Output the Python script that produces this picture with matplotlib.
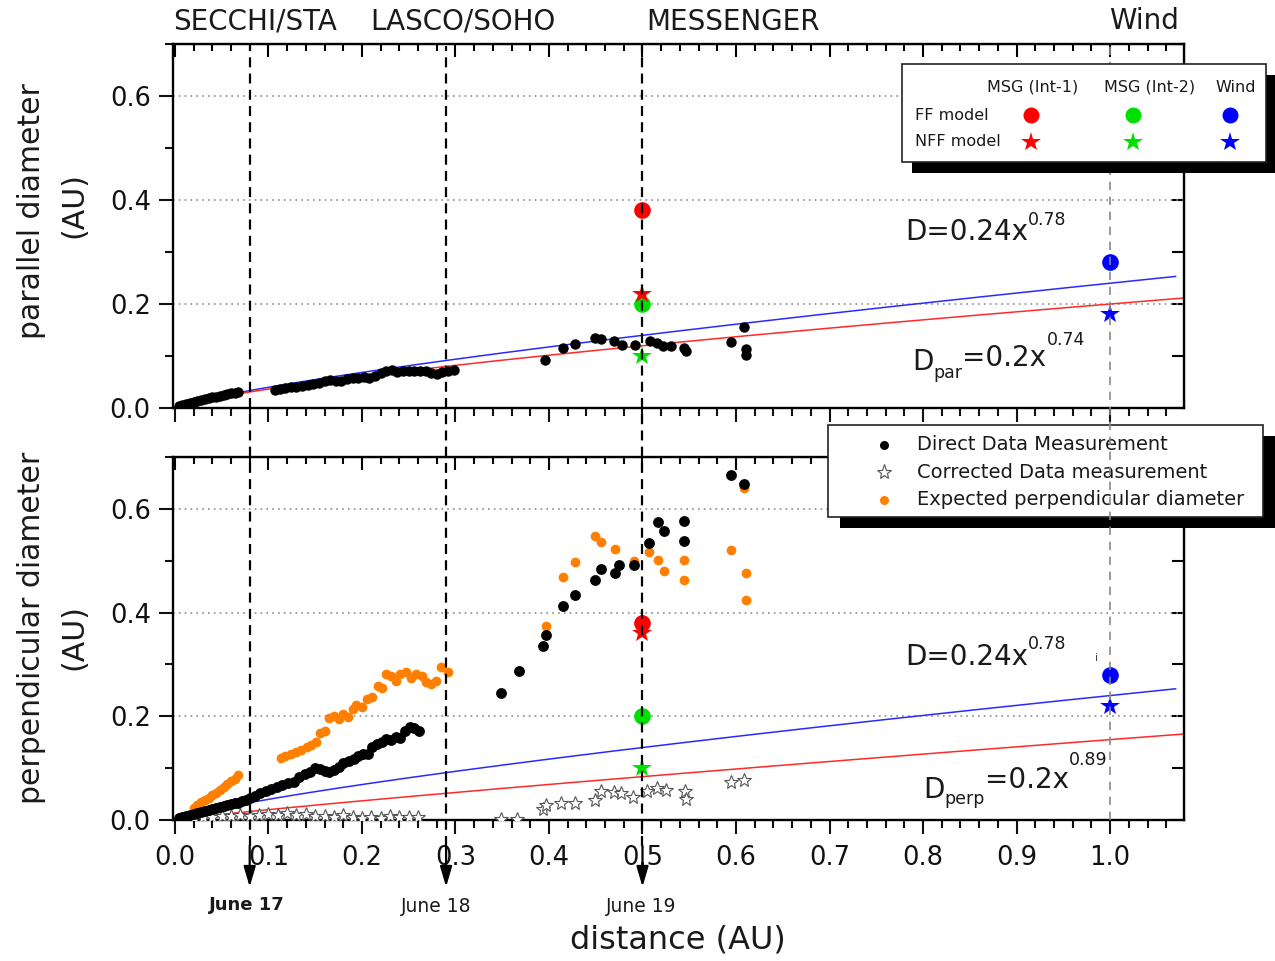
import numpy as np
import matplotlib
matplotlib.use('Agg')
import matplotlib.pyplot as plt
from matplotlib.patches import Rectangle
from matplotlib.lines import Line2D
from matplotlib.ticker import MultipleLocator, NullFormatter, FormatStrFormatter

plt.rcParams['font.family'] = ['DejaVu Sans']

# ---------------- data ----------------
# parallel diameter, direct measurements
par_x = [0.004, 0.008, 0.012, 0.016, 0.020, 0.024, 0.028, 0.032, 0.036, 0.040, 0.044, 0.048, 0.052, 0.056, 0.060, 0.064, 0.068,
         0.107, 0.112, 0.118, 0.124, 0.130, 0.136, 0.142, 0.148, 0.154, 0.160, 0.166, 0.172, 0.178, 0.184, 0.190, 0.196, 0.202,
         0.208, 0.214, 0.220, 0.226, 0.232, 0.238, 0.244, 0.250, 0.256, 0.262, 0.268, 0.274, 0.280, 0.286, 0.292, 0.298,
         0.396, 0.415, 0.428, 0.449, 0.456, 0.470, 0.478, 0.492, 0.508, 0.515, 0.522, 0.530, 0.544, 0.546, 0.595, 0.609, 0.611, 0.611]
par_y = [0.004, 0.006, 0.008, 0.010, 0.012, 0.014, 0.016, 0.018, 0.019, 0.021, 0.022, 0.024, 0.025, 0.026, 0.028, 0.029, 0.030,
         0.035, 0.037, 0.038, 0.040, 0.041, 0.042, 0.044, 0.046, 0.048, 0.051, 0.054, 0.052, 0.051, 0.055, 0.057, 0.058, 0.059,
         0.058, 0.061, 0.068, 0.071, 0.073, 0.070, 0.071, 0.072, 0.071, 0.072, 0.071, 0.068, 0.066, 0.069, 0.071, 0.073,
         0.092, 0.115, 0.123, 0.135, 0.133, 0.128, 0.121, 0.122, 0.128, 0.125, 0.120, 0.119, 0.115, 0.110, 0.127, 0.156, 0.113, 0.102]

# perpendicular diameter, direct measurements
perp_x = [0.004, 0.008, 0.012, 0.016, 0.020, 0.024, 0.028, 0.032, 0.036, 0.040, 0.044, 0.048, 0.052, 0.056, 0.060, 0.064, 0.068, 0.072, 0.076,
          0.080, 0.086, 0.091, 0.097, 0.103, 0.109, 0.115, 0.121, 0.127, 0.133, 0.139, 0.144, 0.150, 0.155, 0.160, 0.165, 0.170, 0.175,
          0.180, 0.186, 0.191, 0.196, 0.201, 0.206, 0.211, 0.216, 0.221, 0.226, 0.231, 0.236, 0.241, 0.246, 0.251, 0.256, 0.261,
          0.349, 0.368, 0.394, 0.397, 0.415, 0.428, 0.449, 0.456, 0.471, 0.475, 0.491, 0.507, 0.517, 0.523, 0.544, 0.544, 0.595, 0.609]
perp_y = [0.003, 0.005, 0.007, 0.009, 0.011, 0.013, 0.015, 0.017, 0.019, 0.021, 0.023, 0.025, 0.027, 0.029, 0.031, 0.033, 0.033, 0.036, 0.038,
          0.042, 0.047, 0.052, 0.056, 0.060, 0.064, 0.067, 0.071, 0.074, 0.083, 0.088, 0.092, 0.100, 0.098, 0.094, 0.093, 0.097, 0.103,
          0.110, 0.114, 0.118, 0.124, 0.127, 0.128, 0.140, 0.146, 0.150, 0.157, 0.155, 0.160, 0.158, 0.172, 0.180, 0.178, 0.172,
          0.244, 0.287, 0.336, 0.357, 0.412, 0.433, 0.463, 0.484, 0.477, 0.492, 0.492, 0.535, 0.574, 0.558, 0.577, 0.538, 0.665, 0.647]

# expected perpendicular diameter
exp_x = [0.020, 0.024, 0.028, 0.032, 0.036, 0.040, 0.044, 0.048, 0.052, 0.056, 0.060, 0.064, 0.068,
         0.113, 0.118, 0.124, 0.130, 0.135, 0.141, 0.146, 0.151, 0.155, 0.160, 0.165, 0.170, 0.175, 0.180, 0.185, 0.190,
         0.194, 0.200, 0.205, 0.211, 0.217, 0.222, 0.226, 0.231, 0.236, 0.241, 0.247, 0.253, 0.258, 0.264, 0.269, 0.274,
         0.279, 0.285, 0.292,
         0.397, 0.415, 0.428, 0.449, 0.456, 0.471, 0.491, 0.507, 0.517, 0.523, 0.544, 0.544, 0.595, 0.609, 0.611, 0.611]
exp_y = [0.024, 0.029, 0.034, 0.038, 0.043, 0.048, 0.053, 0.058, 0.064, 0.069, 0.075, 0.080, 0.086,
         0.119, 0.124, 0.128, 0.131, 0.135, 0.140, 0.144, 0.150, 0.168, 0.172, 0.196, 0.200, 0.194, 0.205, 0.198, 0.214,
         0.221, 0.218, 0.234, 0.238, 0.259, 0.255, 0.282, 0.278, 0.269, 0.282, 0.285, 0.273, 0.282, 0.278, 0.266, 0.263,
         0.268, 0.295, 0.285,
         0.375, 0.469, 0.497, 0.548, 0.537, 0.523, 0.500, 0.517, 0.501, 0.481, 0.501, 0.463, 0.520, 0.641, 0.476, 0.424]

# corrected data measurement
corr_x = [0.010, 0.020, 0.030, 0.040, 0.050, 0.060, 0.070, 0.080, 0.090, 0.100, 0.110, 0.120, 0.130, 0.140, 0.150, 0.160,
          0.170, 0.180, 0.190, 0.200, 0.210, 0.220, 0.230, 0.240, 0.250, 0.260,
          0.349, 0.366, 0.394, 0.397, 0.413, 0.428, 0.449, 0.456, 0.470, 0.477, 0.490, 0.505, 0.515, 0.525, 0.545, 0.546, 0.595, 0.609]
corr_y = [0.002, 0.004, 0.005, 0.006, 0.007, 0.008, 0.009, 0.008, 0.010, 0.012, 0.009, 0.014, 0.010, 0.011, 0.008, 0.007,
          0.005, 0.009, 0.006, 0.004, 0.005, 0.003, 0.008, 0.006, 0.005, 0.006,
          0.001, 0.002, 0.022, 0.029, 0.033, 0.033, 0.038, 0.055, 0.054, 0.052, 0.045, 0.056, 0.062, 0.058, 0.055, 0.040, 0.073, 0.077]

# model results: [MSG Int-1, MSG Int-2, Wind]
model_x = [0.5, 0.5, 1.0]
model_colors = ['#ff0000', '#00e000', '#0000ff']
ff_par = [0.38, 0.20, 0.28]
nff_par = [0.22, 0.10, 0.18]
ff_perp = [0.38, 0.20, 0.28]
nff_perp = [0.36, 0.10, 0.22]

# power-law fits (coefficient, exponent)
fit_par_blue = (0.24, 0.78)
fit_par_red = (0.2, 0.74)
fit_perp_blue = (0.24, 0.78)
fit_perp_red = (0.155, 0.89)

event_x = [0.08, 0.29, 0.5]
event_labels = ['June 17', 'June 18', 'June 19']
wind_x = 1.0
mission_labels = ['SECCHI/STA', 'LASCO/SOHO', 'MESSENGER', 'Wind']

# ---------------- figure ----------------
W, H = 1275, 961
fig = plt.figure(figsize=(W / 100, H / 100), dpi=100)


def box(l, t, r, b):
    return [l / W, 1 - b / H, (r - l) / W, (b - t) / H]


def P(x, y):
    return (x / W, 1 - y / H)


ax1 = fig.add_axes(box(173, 44, 1184, 408))
ax2 = fig.add_axes(box(173, 457, 1184, 820))

XMIN, XMAX, YMIN, YMAX = -0.002, 1.079, 0.0, 0.70

for ax in (ax1, ax2):
    ax.set_xlim(XMIN, XMAX)
    ax.set_ylim(YMIN, YMAX)
    ax.xaxis.set_major_locator(MultipleLocator(0.1))
    ax.xaxis.set_minor_locator(MultipleLocator(0.02))
    ax.yaxis.set_major_locator(MultipleLocator(0.2))
    ax.yaxis.set_minor_locator(MultipleLocator(0.1))
    ax.xaxis.set_major_formatter(FormatStrFormatter('%.1f'))
    ax.yaxis.set_major_formatter(FormatStrFormatter('%.1f'))
    ax.tick_params(which='both', direction='out', width=1.5, labelsize=18.5, colors='#111')
    ax.tick_params(which='major', length=10)
    ax.tick_params(which='minor', length=5.5)
    ax.tick_params(axis='x', which='major', pad=8)
    ax.tick_params(axis='y', which='major', pad=6)
    for s in ax.spines.values():
        s.set_linewidth(1.7)
    ax.grid(axis='y', which='major', color='#8c8c8c', lw=1.2, ls=(0, (1, 2.5)))
    ax.set_axisbelow(True)
    sx = ax.secondary_xaxis('top')
    sx.xaxis.set_major_locator(MultipleLocator(0.1))
    sx.xaxis.set_minor_locator(MultipleLocator(0.02))
    sx.xaxis.set_major_formatter(NullFormatter())
    sx.tick_params(which='both', direction='in', width=1.5)
    sx.tick_params(which='major', length=9)
    sx.tick_params(which='minor', length=5)
    sy = ax.secondary_yaxis('right')
    sy.yaxis.set_major_locator(MultipleLocator(0.2))
    sy.yaxis.set_minor_locator(MultipleLocator(0.1))
    sy.yaxis.set_major_formatter(NullFormatter())
    sy.tick_params(which='both', direction='in', width=1.5, length=9)

ax1.tick_params(labelbottom=False)

# fits
xf_b = np.linspace(0, 1.07, 300)
xf_r = np.linspace(0, XMAX, 300)
ax1.plot(xf_b, fit_par_blue[0] * xf_b ** fit_par_blue[1], color='#2a2aff', lw=1.1, zorder=2)
ax1.plot(xf_r, fit_par_red[0] * xf_r ** fit_par_red[1], color='#ff2a2a', lw=1.1, zorder=2)
ax2.plot(xf_b, fit_perp_blue[0] * xf_b ** fit_perp_blue[1], color='#2a2aff', lw=1.1, zorder=2)
ax2.plot(xf_r, fit_perp_red[0] * xf_r ** fit_perp_red[1], color='#ff2a2a', lw=1.1, zorder=2)

# data points
ax1.plot(par_x, par_y, 'o', color='k', ms=7.5, mew=0, zorder=3)
ax2.plot(corr_x, corr_y, '*', ms=10, mfc='white', mec='#555555', mew=0.8, zorder=3)
ax2.plot(exp_x, exp_y, 'o', color='#ff8000', ms=7, mew=0, zorder=3)
ax2.plot(perp_x, perp_y, 'o', color='k', ms=7.8, mew=0, zorder=3)

# model markers
for ax, ff, nff in ((ax1, ff_par, nff_par), (ax2, ff_perp, nff_perp)):
    for xv, f, c in zip(model_x, ff, model_colors):
        ax.plot([xv], [f], 'o', color=c, ms=12, mew=0, zorder=4)
    for xv, n, c in zip(model_x, nff, model_colors):
        ax.plot([xv], [n], '*', color=c, ms=15, mew=0, zorder=4)

# vertical event lines spanning both panels
top_in_ax2 = (820 - 44) / 520.0
for xv in event_x:
    ax2.plot([xv, xv], [-0.05, top_in_ax2], color='k', lw=1.6, ls=(0, (4.5, 2.8)),
             clip_on=False, zorder=7)
    ax2.annotate('', xy=(xv, -0.129), xytext=(xv, -0.05), xycoords='data',
                 arrowprops=dict(arrowstyle='-|>,head_length=0.68,head_width=0.2', color='k',
                                 lw=1.6, mutation_scale=18, shrinkA=0, shrinkB=0),
                 annotation_clip=False)
ax2.plot([wind_x, wind_x], [0, top_in_ax2], color='#8a8a8a', lw=1.2, ls=(0, (5, 4)),
         clip_on=False, zorder=6)

# ---------------- legend 2 (bottom) drawn below the Wind line ----------------
def frect(l, t, r, b, **kw):
    return Rectangle((l / W, 1 - b / H), (r - l) / W, (b - t) / H, transform=fig.transFigure, **kw)


ax2.add_artist(frect(840, 436, 1276, 528, facecolor='k', edgecolor='none', zorder=4, clip_on=False))
ax2.add_artist(frect(828, 425, 1263, 517, facecolor='white', edgecolor='#222', lw=1.2, zorder=4.1, clip_on=False))
leg2_rows = [(445, 'Direct Data Measurement', dict(marker='o', color='k', ms=6.5, mew=0)),
             (472, 'Corrected Data measurement', dict(marker='*', mfc='white', mec='#555555', ms=11, mew=0.8)),
             (500, 'Expected perpendicular diameter', dict(marker='o', color='#ff8000', ms=6.5, mew=0))]
for y, label, mk in leg2_rows:
    ax2.add_artist(Line2D([884 / W], [1 - y / H], transform=fig.transFigure, ls='none',
                          zorder=4.2, clip_on=False, **mk))
    ax2.text(917 / W, 1 - y / H, label, transform=fig.transFigure, fontsize=14, va='center',
             ha='left', color='#1a1a1a', zorder=4.2, clip_on=False)

# ---------------- legend 1 (top) ----------------
fig.add_artist(frect(912, 75, 1276, 173, facecolor='k', edgecolor='none', zorder=10))
fig.add_artist(frect(902, 64, 1266, 162, facecolor='white', edgecolor='#222', lw=1.2, zorder=11))
leg1_cols = [1031, 1133, 1230]
leg1_heads = ['MSG (Int-1)', 'MSG (Int-2)', 'Wind']
leg1_head_x = [1033, 1150, 1236]
for hx, h in zip(leg1_head_x, leg1_heads):
    fig.text(*P(hx, 87), h, fontsize=11.5, ha='center', va='center', color='#1a1a1a', zorder=12)
fig.text(*P(915, 115), 'FF model', fontsize=11.5, ha='left', va='center', color='#1a1a1a', zorder=12)
fig.text(*P(915, 142), 'NFF model', fontsize=11.5, ha='left', va='center', color='#1a1a1a', zorder=12)
for cx, c in zip(leg1_cols, model_colors):
    fig.add_artist(Line2D([cx / W], [1 - 115 / H], transform=fig.transFigure, marker='o', color=c,
                          ms=11.5, mew=0, ls='none', zorder=12))
    fig.add_artist(Line2D([cx / W], [1 - 142 / H], transform=fig.transFigure, marker='*', color=c,
                          ms=15, mew=0, ls='none', zorder=12))

# ---------------- texts ----------------
for (xc, yc), s in zip([(255, 22), (463, 22), (733, 22), (1144, 21)], mission_labels):
    fig.text(*P(xc, yc), s, fontsize=20, ha='center', va='center', color='#1a1a1a')

fig.text(*P(32, 211), 'parallel diameter', fontsize=21.5, rotation=90, ha='center', va='center', color='#1a1a1a')
fig.text(*P(74, 205), '(AU)', fontsize=21.5, rotation=90, ha='center', va='center', color='#1a1a1a')
fig.text(*P(32, 628), 'perpendicular diameter', fontsize=21.5, rotation=90, ha='center', va='center', color='#1a1a1a')
fig.text(*P(74, 637), '(AU)', fontsize=21.5, rotation=90, ha='center', va='center', color='#1a1a1a')
fig.text(*P(678, 940), 'distance (AU)', fontsize=23, ha='center', va='center', color='#1a1a1a')

for (xc, yc), s, wt in zip([(247, 905), (436, 907), (641, 907)], event_labels, ['bold', 'normal', 'normal']):
    fig.text(*P(xc, yc), s, fontsize=13 if wt == 'bold' else 13.5, fontweight=wt,
             ha='center', va='center', color='#1a1a1a')

fig.text(*P(1097, 658), 'i', fontsize=8, ha='center', va='center', color='#444')

renderer = fig.canvas.get_renderer()


def rich(x, parts):
    cur = x
    for s, size, base in parts:
        t = fig.text(cur / W, 1 - base / H, s, fontsize=size, ha='left', va='baseline', color='#1a1a1a')
        bb = t.get_window_extent(renderer=renderer)
        cur += bb.width


rich(905, [('D=0.24x', 20, 240), ('0.78', 12.5, 225)])
rich(912, [('D', 20, 370), ('par', 12.5, 378), ('=0.2x', 20, 366), ('0.74', 12.5, 345)])
rich(905, [('D=0.24x', 20, 665), ('0.78', 12.5, 649)])
rich(923, [('D', 20, 798), ('perp', 12.5, 804), ('=0.2x', 20, 788), ('0.89', 12.5, 765)])

fig.savefig('out.png', dpi=100)
